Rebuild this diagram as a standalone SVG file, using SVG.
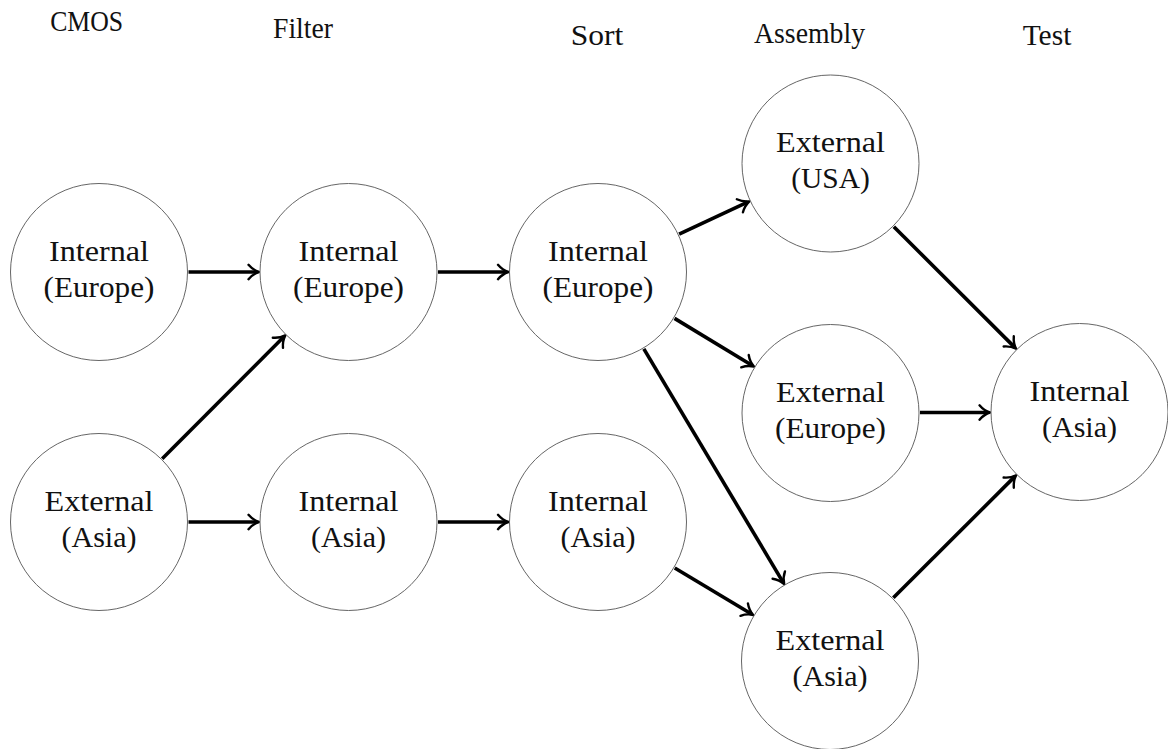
<svg xmlns="http://www.w3.org/2000/svg" width="1168" height="749" viewBox="0 0 1168 749">
<style>
.node circle{fill:#fff;stroke:#666;stroke-width:1}
text{font-family:'Liberation Serif','DejaVu Serif','Noto Serif',serif;font-size:29px;fill:#111;text-anchor:middle}
.edge{stroke:#000;stroke-width:3.6;fill:none;marker-end:url(#tip)}
</style>
<defs>
<marker id="tip" markerUnits="userSpaceOnUse" markerWidth="20" markerHeight="20" refX="-2" refY="0" orient="auto" overflow="visible">
<path d="M -10.5,-7.2 C -7,-3 -2.5,-0.8 0,0 C -2.5,0.8 -7,3 -10.5,7.2" fill="none" stroke="#000" stroke-width="2.4" stroke-linecap="round" stroke-linejoin="round"/>
</marker>
</defs>
<rect width="1168" height="749" fill="#fff"/>
<g id="headers" font-family="Liberation Serif, DejaVu Serif, serif">
<text x="86.7" y="30.5" textLength="73" lengthAdjust="spacingAndGlyphs">CMOS</text>
<text x="303" y="38.3" textLength="60" lengthAdjust="spacingAndGlyphs">Filter</text>
<text x="597" y="45" textLength="52.6" lengthAdjust="spacingAndGlyphs">Sort</text>
<text x="809.5" y="43.3" textLength="111" lengthAdjust="spacingAndGlyphs">Assembly</text>
<text x="1047" y="45" textLength="48.7" lengthAdjust="spacingAndGlyphs">Test</text>
</g>
<g id="edges">
<line class="edge" x1="188.5" y1="272" x2="257" y2="272"/>
<line class="edge" x1="438" y1="272" x2="506.5" y2="272"/>
<line class="edge" x1="188.5" y1="522" x2="257" y2="522"/>
<line class="edge" x1="438" y1="522" x2="506.5" y2="522"/>
<line class="edge" x1="162.2" y1="458.65" x2="283.9" y2="336.77"/>
<line class="edge" x1="679.1" y1="234.15" x2="747.6" y2="202.2"/>
<line class="edge" x1="674.53" y1="318.41" x2="752.26" y2="365.55"/>
<line class="edge" x1="643.84" y1="348.87" x2="783.14" y2="582.41"/>
<line class="edge" x1="674.77" y1="568" x2="751.51" y2="613.97"/>
<line class="edge" x1="893.85" y1="226.72" x2="1014.73" y2="347.37"/>
<line class="edge" x1="920" y1="412.5" x2="988" y2="412.5"/>
<line class="edge" x1="893.35" y1="597.78" x2="1014.73" y2="476.63"/>
</g>
<g id="cmos-internal-europe" class="node">
<circle cx="99" cy="272" r="88.5"/>
<text x="99" y="261" textLength="100" lengthAdjust="spacingAndGlyphs">Internal</text>
<text x="99" y="297" textLength="111" lengthAdjust="spacingAndGlyphs">(Europe)</text>
</g>
<g id="cmos-external-asia" class="node">
<circle cx="99" cy="522" r="88.5"/>
<text x="99" y="510.5" textLength="109" lengthAdjust="spacingAndGlyphs">External</text>
<text x="99" y="546.5" textLength="75" lengthAdjust="spacingAndGlyphs">(Asia)</text>
</g>
<g id="filter-internal-europe" class="node">
<circle cx="348.5" cy="272" r="88.5"/>
<text x="348.5" y="261" textLength="100" lengthAdjust="spacingAndGlyphs">Internal</text>
<text x="348.5" y="297" textLength="111" lengthAdjust="spacingAndGlyphs">(Europe)</text>
</g>
<g id="filter-internal-asia" class="node">
<circle cx="348.5" cy="522" r="88.5"/>
<text x="348.5" y="510.5" textLength="100" lengthAdjust="spacingAndGlyphs">Internal</text>
<text x="348.5" y="546.5" textLength="75" lengthAdjust="spacingAndGlyphs">(Asia)</text>
</g>
<g id="sort-internal-europe" class="node">
<circle cx="598" cy="272" r="88.5"/>
<text x="598" y="261" textLength="100" lengthAdjust="spacingAndGlyphs">Internal</text>
<text x="598" y="297" textLength="111" lengthAdjust="spacingAndGlyphs">(Europe)</text>
</g>
<g id="sort-internal-asia" class="node">
<circle cx="598" cy="522" r="88.5"/>
<text x="598" y="510.5" textLength="100" lengthAdjust="spacingAndGlyphs">Internal</text>
<text x="598" y="546.5" textLength="75" lengthAdjust="spacingAndGlyphs">(Asia)</text>
</g>
<g id="assembly-external-usa" class="node">
<circle cx="830.5" cy="163.5" r="88.5"/>
<text x="830.5" y="152" textLength="109" lengthAdjust="spacingAndGlyphs">External</text>
<text x="830.5" y="188" textLength="78.7" lengthAdjust="spacingAndGlyphs">(USA)</text>
</g>
<g id="assembly-external-europe" class="node">
<circle cx="830.5" cy="413" r="88.5"/>
<text x="830.5" y="401.5" textLength="109" lengthAdjust="spacingAndGlyphs">External</text>
<text x="830.5" y="437.5" textLength="111" lengthAdjust="spacingAndGlyphs">(Europe)</text>
</g>
<g id="assembly-external-asia" class="node">
<circle cx="830" cy="661" r="88.5"/>
<text x="830" y="649.5" textLength="109" lengthAdjust="spacingAndGlyphs">External</text>
<text x="830" y="685.5" textLength="75" lengthAdjust="spacingAndGlyphs">(Asia)</text>
</g>
<g id="test-internal-asia" class="node">
<circle cx="1079.5" cy="412" r="88.5"/>
<text x="1079.5" y="400.5" textLength="100" lengthAdjust="spacingAndGlyphs">Internal</text>
<text x="1079.5" y="436.5" textLength="75" lengthAdjust="spacingAndGlyphs">(Asia)</text>
</g>
</svg>
